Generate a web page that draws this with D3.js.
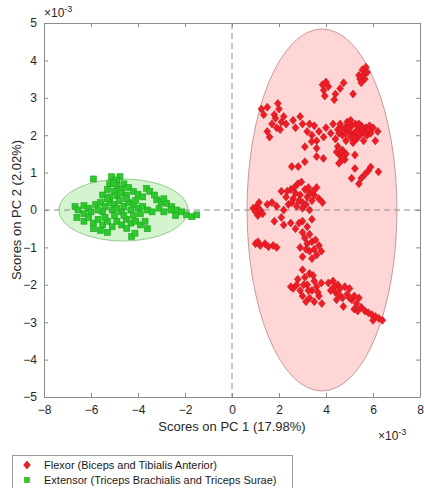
<!DOCTYPE html>
<html>
<head>
<meta charset="utf-8">
<script src="https://cdn.jsdelivr.net/npm/d3@7"></script>
<style>
body { margin: 0; background: #fff; }
svg text { font-family: "Liberation Sans", Arial, sans-serif; }
</style>
</head>
<body>
<div id="svg"></div>
<script>
// scores, in units of 1e-3
var flexor = [
  [5.4,3.6],[5.55,3.75],[5.7,3.82],[5.6,3.62],[5.75,3.68],[5.45,3.5],[5.65,3.5],[5.5,3.4],
  [3.85,3.35],[4.0,3.42],[4.1,3.3],[3.9,3.2],[3.95,3.05],[4.4,3.1],[4.6,3.25],[4.75,3.4],[4.35,2.95],[5.15,3.1],
  [1.25,2.7],[1.5,2.75],[1.8,2.55],[2.0,2.7],[2.2,2.5],[1.7,2.3],[1.9,2.2],[2.1,2.35],[1.5,2.1],[1.6,1.95],[2.3,2.3],
  [1.85,2.45],[2.05,2.15],[2.6,2.4],[2.9,2.5],[3.0,2.3],[2.7,2.2],[1.95,2.85],[1.35,2.55],
  [3.2,2.1],[3.4,2.0],[3.5,2.25],[3.7,2.1],[3.9,1.95],[4.0,2.2],[4.2,2.05],[4.3,2.3],[4.4,1.9],[4.5,2.15],[4.6,2.3],
  [4.7,2.0],[4.8,2.2],[4.85,1.85],[4.9,2.35],[5.0,2.1],[5.05,1.95],[5.1,2.25],[5.2,2.05],[5.25,2.3],[5.3,1.9],
  [5.35,2.15],[5.45,2.0],[5.5,2.25],[5.55,2.1],[5.6,1.85],[5.7,2.2],[5.75,2.0],[5.85,2.25],[5.9,2.05],[6.0,2.2],
  [6.2,2.1],[6.1,1.85],[4.55,2.05],[5.15,1.8],[3.6,1.85],[4.95,2.2],[5.4,2.3],[5.65,2.05],[5.05,2.4],[4.65,2.15],
  [5.3,2.1],[5.8,2.15],[4.85,2.05],[5.2,1.95],[3.3,2.3],
  [3.1,1.69],[3.39,1.83],[3.6,1.65],[3.6,1.43],[3.89,1.38],[3.1,1.29],[2.54,1.16],[2.82,1.16],[4.5,1.7],[4.7,1.6],
  [4.6,1.45],[4.8,1.35],[4.55,1.25],[4.85,1.5],[4.45,1.55],[5.23,1.47],[5.23,1.11],[5.09,0.85],[5.5,0.85],[5.65,0.95],
  [5.8,1.05],[5.9,1.15],[6.23,1.02],[5.4,0.7],[4.7,1.35],[4.65,1.55],
  [2.1,0.5],[2.3,0.35],[2.5,0.55],[2.6,0.3],[2.7,0.45],[2.8,0.7],[2.9,0.4],[3.0,0.2],[3.1,0.55],[3.2,0.35],[3.3,0.45],
  [3.4,0.25],[3.5,0.4],[3.6,0.6],[3.7,0.3],[3.85,0.2],[2.4,0.15],[2.2,0.0],[1.9,0.1],[1.7,0.2],[2.75,0.1],[3.0,0.05],
  [3.3,0.0],[2.95,0.75],[2.55,0.2],[2.85,0.25],[3.15,0.15],[3.45,0.5],[2.35,0.5],[2.65,0.6],[3.25,0.6],
  [0.9,0.05],[1.05,0.1],[1.2,0.0],[1.3,-0.1],[1.1,-0.15],[1.5,0.15],[1.0,-0.05],[1.15,0.2],
  [1.8,-0.3],[2.2,-0.4],[2.5,-0.35],[2.7,-0.5],[3.0,-0.3],[3.2,-0.45],[3.4,-0.25],[2.1,-0.2],[2.85,-0.35],
  [3.0,-0.6],[3.1,-0.75],[3.3,-0.65],[3.2,-0.9],[3.4,-0.85],[3.5,-1.05],[3.3,-1.1],[3.6,-1.2],[3.4,-1.3],[3.7,-0.95],
  [2.9,-1.0],[3.0,-1.25],[3.8,-1.1],[3.15,-1.05],[3.55,-0.8],
  [1.0,-0.9],[1.2,-0.95],[1.4,-0.9],[1.55,-0.98],[1.75,-0.95],[1.9,-1.0],[1.1,-0.85],
  [3.0,-1.6],[2.8,-1.85],[3.1,-1.8],[3.3,-1.7],[3.5,-1.9],[3.2,-2.0],[2.6,-2.1],[2.9,-2.15],[3.4,-2.15],[3.6,-2.05],
  [3.7,-2.3],[3.3,-2.35],[3.0,-2.3],[2.5,-2.05],[3.8,-1.95],[3.82,-2.5],[3.5,-2.45],[3.05,-2.0],[3.45,-1.75],
  [3.25,-2.15],[2.75,-2.0],[3.65,-2.2],[3.15,-2.45],
  [4.1,-1.95],[4.3,-1.9],[4.5,-2.0],[4.2,-2.15],[4.4,-2.2],[4.6,-2.1],[4.8,-2.05],[4.9,-2.25],[4.7,-2.35],[5.0,-2.1],
  [5.1,-2.4],[5.2,-2.3],[5.3,-2.5],[5.4,-2.35],[5.5,-2.6],[4.74,-2.58],[5.66,-2.7],[5.8,-2.75],[5.95,-2.8],[6.1,-2.85],
  [6.25,-2.9],[6.4,-2.95],[5.2,-2.65],[4.45,-2.4],[4.35,-2.05],[4.55,-2.25],[5.0,-2.35],[5.35,-2.7],[6.0,-2.95]
];

var extensor = [
  [-5.9,0.83],[-5.12,0.89],[-4.77,0.89],[-4.91,0.80],[-5.2,0.7],[-4.9,0.65],[-4.6,0.7],[-5.3,0.55],[-5.0,0.5],
  [-4.7,0.55],[-4.4,0.6],[-4.2,0.5],[-3.63,0.58],[-3.5,0.5],[-5.5,0.4],[-5.2,0.35],[-4.9,0.38],[-4.5,0.4],[-4.0,0.42],
  [-3.8,0.35],[-5.05,0.72],[-4.75,0.45],
  [-6.68,0.09],[-6.55,0.0],[-6.3,0.12],[-6.1,0.05],[-6.0,-0.05],[-5.8,0.15],[-5.6,0.2],[-5.4,0.1],[-5.2,0.2],[-5.0,0.15],
  [-4.8,0.25],[-4.6,0.1],[-4.4,0.2],[-4.2,0.15],[-4.0,0.05],[-3.8,0.1],[-3.6,0.0],[-3.4,-0.05],[-5.5,-0.05],[-5.1,0.0],
  [-4.7,-0.05],[-4.3,0.0],[-3.9,-0.1],[-4.9,0.05],[-4.5,0.3],[-5.3,0.3],[-4.1,0.25],[-5.7,0.0],[-6.3,-0.1],
  [-6.6,-0.2],[-6.3,-0.3],[-6.1,-0.2],[-5.9,-0.35],[-5.7,-0.25],[-5.5,-0.4],[-5.3,-0.3],[-5.1,-0.45],[-4.9,-0.3],
  [-4.7,-0.4],[-4.5,-0.25],[-4.3,-0.35],[-4.1,-0.3],[-3.9,-0.4],[-3.7,-0.3],[-5.6,-0.55],[-5.3,-0.6],[-4.48,-0.49],
  [-4.27,-0.71],[-4.13,-0.62],[-3.6,-0.5],[-5.0,-0.15],[-4.6,-0.15],[-5.4,-0.2],[-4.2,-0.15],[-5.9,-0.5],
  [-3.2,0.27],[-3.0,0.22],[-2.78,0.18],[-2.57,0.09],[-2.35,0.0],[-2.14,-0.05],[-1.93,-0.13],[-1.71,-0.18],[-1.5,-0.13],
  [-3.1,0.05],[-2.9,-0.05],[-2.6,0.0],[-2.4,-0.15],[-3.3,0.4],[-2.9,0.3]
];

// confidence ellipses: [cx, cy, rx, ry]
var flexorEllipse = [3.83, 0, 3.19, 4.84];
var extensorEllipse = [-4.62, 0, 2.75, 0.83];

var xTicks = [-8, -6, -4, -2, 0, 2, 4, 6, 8];
var yTicks = [-5, -4, -3, -2, -1, 0, 1, 2, 3, 4, 5];
var legendLabels = ["Flexor (Biceps and Tibialis Anterior)", "Extensor (Triceps Brachialis and Triceps Surae)"];

var width = 424,
    height = 488;
var margin = { top: 23, right: 4, bottom: 91, left: 44 };

var svg = d3.select("#svg").append("svg")
    .attr("width", width)
    .attr("height", height);

var x = d3.scaleLinear().domain([-8, 8]).range([margin.left, width - margin.right]);
var y = d3.scaleLinear().domain([-5, 5]).range([height - margin.bottom, margin.top]);

// ellipses
function ellipse(e, fill, stroke) {
    svg.append("ellipse")
        .attr("cx", x(e[0]))
        .attr("cy", y(e[1]))
        .attr("rx", x(e[0] + e[2]) - x(e[0]))
        .attr("ry", y(e[1]) - y(e[1] + e[3]))
        .attr("fill", fill)
        .attr("stroke", stroke)
        .attr("stroke-width", 0.8);
}
ellipse(flexorEllipse, "#ffd6d6", "#b78585");
ellipse(extensorEllipse, "#d4f4d0", "#7fc17a");

// zero lines
svg.append("line")
    .attr("x1", x(0)).attr("x2", x(0))
    .attr("y1", y(5)).attr("y2", y(-5))
    .attr("stroke", "#8a8a8a").attr("stroke-dasharray", "6,4");
svg.append("line")
    .attr("x1", x(-8)).attr("x2", x(8))
    .attr("y1", y(0)).attr("y2", y(0))
    .attr("stroke", "#8a8a8a").attr("stroke-dasharray", "6,4");

// matlab diamond: as wide as it is tall
function diamondPath(r) {
    return "M0," + (-r) + "L" + (r * 0.85) + ",0L0," + r + "L" + (-r * 0.85) + ",0Z";
}

svg.append("g")
    .selectAll("path")
    .data(flexor)
    .enter().append("path")
    .attr("d", diamondPath(4))
    .attr("transform", d => "translate(" + x(d[0]) + "," + y(d[1]) + ")")
    .attr("fill", "#ee1c24")
    .attr("stroke", "#c8141c")
    .attr("stroke-width", 0.6);

svg.append("g")
    .selectAll("rect")
    .data(extensor)
    .enter().append("rect")
    .attr("x", d => x(d[0]) - 3)
    .attr("y", d => y(d[1]) - 3)
    .attr("width", 6)
    .attr("height", 6)
    .attr("fill", "#2ec82e")
    .attr("stroke", "#19a819")
    .attr("stroke-width", 0.6);

// axes, matlab style box
var tickColor = "#262626";
var boxColor = "#8c8c8c";

var xAxis = svg.append("g")
    .attr("transform", "translate(0," + y(-5) + ")")
    .call(d3.axisBottom(x).tickValues(xTicks).tickSize(-4).tickPadding(8).tickSizeOuter(0));
var yAxis = svg.append("g")
    .attr("transform", "translate(" + x(-8) + ",0)")
    .call(d3.axisLeft(y).tickValues(yTicks).tickSize(-4).tickPadding(7).tickSizeOuter(0));
var xTop = svg.append("g")
    .attr("transform", "translate(0," + y(5) + ")")
    .call(d3.axisTop(x).tickValues(xTicks).tickSize(-4).tickFormat("").tickSizeOuter(0));
var yRight = svg.append("g")
    .attr("transform", "translate(" + x(8) + ",0)")
    .call(d3.axisRight(y).tickValues(yTicks).tickSize(-4).tickFormat("").tickSizeOuter(0));

[xAxis, yAxis, xTop, yRight].forEach(function (a) {
    a.select(".domain").attr("stroke", boxColor);
    a.selectAll(".tick line").attr("stroke", boxColor);
    a.selectAll(".tick text").attr("fill", tickColor).style("font-size", "12px");
});

// exponent labels
function exponent(px, py) {
    var t = svg.append("text")
        .attr("x", px).attr("y", py)
        .attr("fill", tickColor)
        .style("font-size", "12px");
    t.append("tspan").text("\u00d710");
    t.append("tspan").attr("dy", -5).style("font-size", "9px").text("-3");
}
exponent(x(-8), y(5) - 6);
exponent(378, 440);

// axis labels
svg.append("text")
    .attr("x", x(0))
    .attr("y", 431)
    .attr("text-anchor", "middle")
    .attr("fill", tickColor)
    .style("font-size", "13px")
    .text("Scores on PC 1 (17.98%)");

svg.append("text")
    .attr("transform", "translate(21," + y(0) + ") rotate(-90)")
    .attr("text-anchor", "middle")
    .attr("fill", tickColor)
    .style("font-size", "13px")
    .text("Scores on PC 2 (2.02%)");

// legend
svg.append("rect")
    .attr("x", 12.5)
    .attr("y", 455.5)
    .attr("width", 280)
    .attr("height", 40)
    .attr("fill", "#fff")
    .attr("stroke", "#9a9a9a");

svg.append("path")
    .attr("d", diamondPath(4))
    .attr("transform", "translate(27,465)")
    .attr("fill", "#ee1c24")
    .attr("stroke", "#c8141c")
    .attr("stroke-width", 0.6);
svg.append("rect")
    .attr("x", 24.5).attr("y", 477.5)
    .attr("width", 5).attr("height", 5)
    .attr("fill", "#2ec82e")
    .attr("stroke", "#19a819")
    .attr("stroke-width", 0.6);

legendLabels.forEach(function (l, i) {
    svg.append("text")
        .attr("x", 44)
        .attr("y", 469 + i * 15)
        .attr("fill", "#1a1a1a")
        .style("font-size", "11px")
        .text(l);
});
</script>
</body>
</html>
